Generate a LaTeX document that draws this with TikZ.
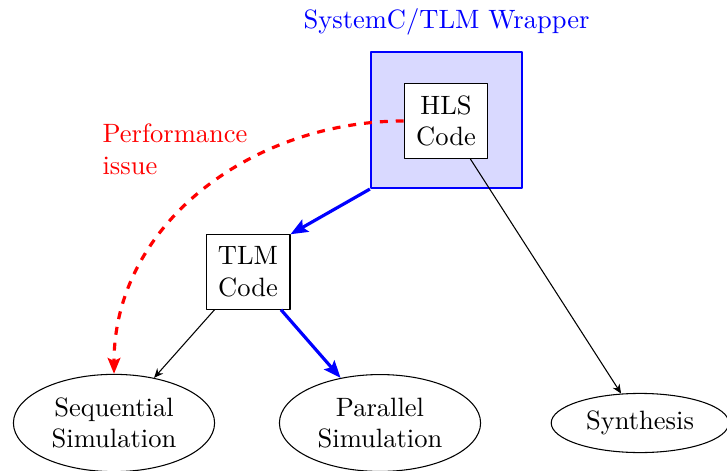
\documentclass[tikz,border=0pt]{standalone}
\usetikzlibrary{shapes.geometric,arrows.meta}
\begin{document}
\begin{tikzpicture}[x=0.377pt, y=-0.377pt, line join=round, >={Stealth[length=3.5pt,width=3pt]},
	box/.style={draw, align=center, inner sep=4.5pt, fill=white},
	sim/.style={draw, ellipse, align=center},
	flow/.style={-{Stealth[length=6.5pt,width=5.2pt,inset=1.2pt]}, blue, line width=1.2pt}]
	\useasboundingbox (0,0) rectangle (727,471);
	% wrapper around the HLS code
	\node[draw=blue, fill=blue!15, line width=0.8pt, minimum width=57pt, minimum height=51.3pt] (wrap) at (446.5,120) {};
	\node[blue, above=2.5pt] (title) at (wrap.north) {SystemC/TLM Wrapper};
	\node[box] (hls) at (446,121) {HLS\\Code};
	\node[box] (tlm) at (248,272) {TLM\\Code};
	\node[sim] (seq) at (114,423) {Sequential\\Simulation};
	\node[sim] (par) at (380,423) {Parallel\\Simulation};
	\node[sim] (syn) at (640,423) {Synthesis};
	\node[red, align=left] (perf) at (175,149) {Performance\\issue};
	% connections
	\draw[flow] (wrap.south west) -- (tlm.north east);
	\draw[->, thin] (hls) -- (syn);
	\draw[->, thin] (tlm) -- (seq);
	\draw[flow] (tlm) -- (par);
	\draw[-{Stealth[length=6pt,width=4.8pt,inset=1.2pt]}, red, dashed, line width=1.2pt] (hls.west) to[out=180, in=90] (seq.north);
\end{tikzpicture}
\end{document}
